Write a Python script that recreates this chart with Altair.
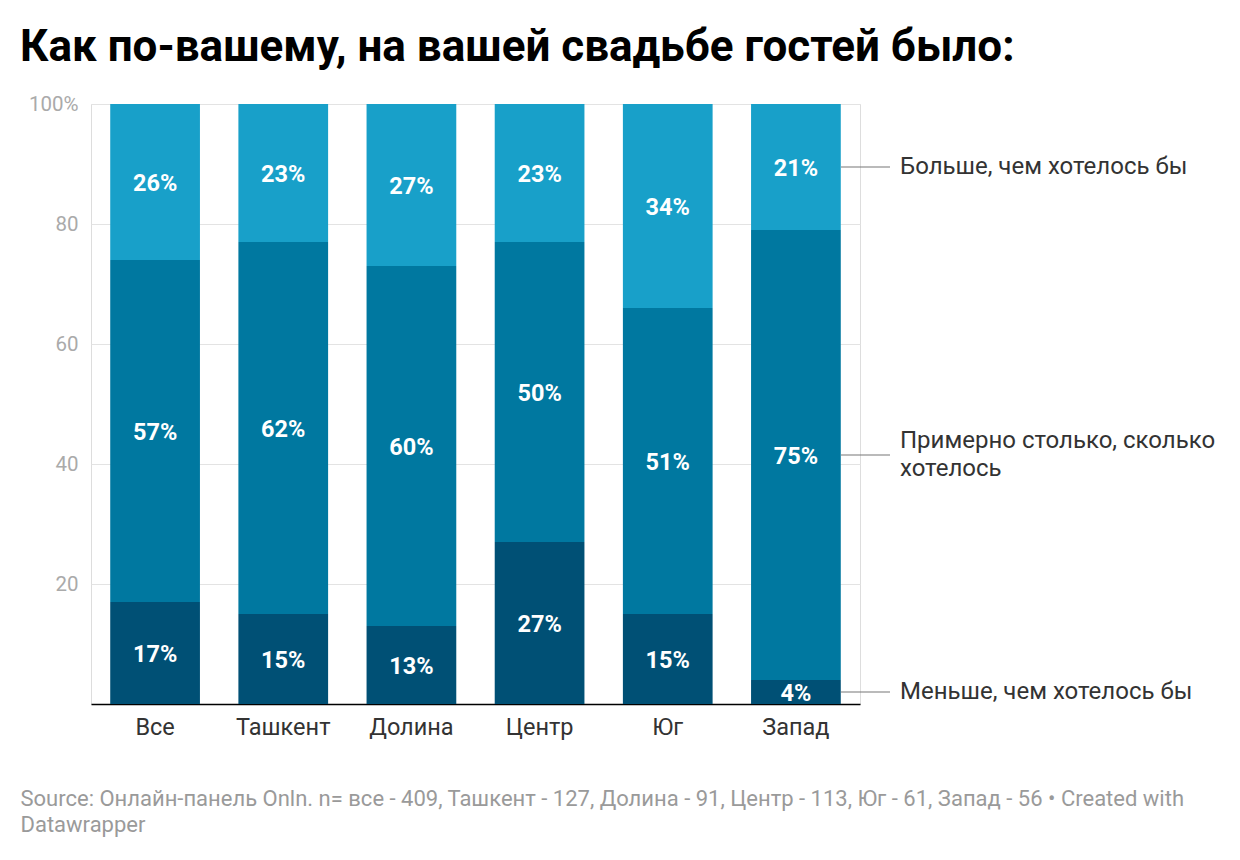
import altair as alt
import pandas as pd

regions = ["Все", "Ташкент", "Долина", "Центр", "Юг", "Запад"]
less = [17, 15, 13, 27, 15, 4]
about = [57, 62, 60, 50, 51, 75]
more = [26, 23, 27, 23, 34, 21]

cat_less = "Меньше, чем хотелось бы"
cat_about = "Примерно столько, сколько\nхотелось"
cat_more = "Больше, чем хотелось бы"
categories = [cat_less, cat_about, cat_more]
colors = ["#005075", "#0078a0", "#18a0c9"]

title_text = "Как по-вашему, на вашей свадьбе гостей было:"
source_lines = [
    "Source: Онлайн-панель Onln. n= все - 409, Ташкент - 127, Долина - 91, Центр - 113, Юг - 61, Запад - 56 • Created with",
    "Datawrapper",
]

rows = []
for i, r in enumerate(regions):
    start = 0
    for cat, vals in zip(categories, [less, about, more]):
        v = vals[i]
        rows.append({"region": r, "cat": cat, "v": v, "y0": start, "y1": start + v,
                     "mid": start + v / 2, "label": f"{v}%",
                     "multi": "\n" in cat})
        start += v
df = pd.DataFrame(rows)
legend_df = df[df["region"] == regions[-1]].copy()
legend_single = legend_df[~legend_df["multi"]]
legend_multi = legend_df[legend_df["multi"]]

x_enc = alt.X(
    "region:N", sort=regions,
    scale=alt.Scale(paddingInner=0.3, paddingOuter=0.15),
    axis=alt.Axis(
        title=source_lines, titleAnchor="start", titleAlign="left", titleBaseline="top",
        titleX=-71, titleY=84, titleFont="Roboto", titleFontSize=22, titleFontWeight="normal",
        titleColor="#9a9a9a", titleLineHeight=26,
        labelAngle=0, labelFont="Roboto", labelFontSize=23.5, labelColor="#333333",
        labelPadding=11, ticks=False, domainColor="#000000", domainWidth=1.5, grid=False,
    ),
)
y_scale = alt.Scale(domain=[0, 100], nice=False)

bars = alt.Chart(df).mark_bar().encode(
    x=x_enc,
    y=alt.Y("y0:Q", scale=y_scale, axis=alt.Axis(
        title=None, values=[20, 40, 60, 80, 100],
        labelExpr="datum.value == 100 ? '100%' : datum.label",
        labelFont="Roboto", labelFontSize=20.5, labelColor="#aaaaaa", labelPadding=13,
        ticks=False, domain=False, gridColor="#e3e3e3", gridWidth=1,
    )),
    y2="y1:Q",
    color=alt.Color("cat:N", scale=alt.Scale(domain=categories, range=colors), legend=None),
)

labels = alt.Chart(df).mark_text(
    font="Roboto", fontSize=23.5, fontWeight="bold", color="white", baseline="middle", dy=2
).encode(
    x=alt.X("region:N", sort=regions),
    y=alt.Y("mid:Q", scale=y_scale),
    text="label:N",
)

leg_rules = alt.Chart(legend_df).mark_rule(color="#777777", strokeWidth=1.2).encode(
    x=alt.value(750), x2=alt.value(799),
    y=alt.Y("mid:Q", scale=y_scale),
)
leg_style = dict(font="Roboto", fontSize=24, color="#333333", align="left",
                 baseline="middle", lineBreak="\n", lineHeight=28)
leg_text1 = alt.Chart(legend_single).mark_text(**leg_style).encode(
    x=alt.value(809),
    y=alt.Y("mid:Q", scale=y_scale),
    text="cat:N",
)
leg_text2 = alt.Chart(legend_multi).mark_text(dy=-14, **leg_style).encode(
    x=alt.value(809),
    y=alt.Y("mid:Q", scale=y_scale),
    text="cat:N",
)

chart = alt.layer(bars, labels, leg_rules, leg_text1, leg_text2).properties(
    width=769, height=600,
    autosize=alt.AutoSizeParams(type="none"),
    padding={"left": 83, "top": 96, "right": 372, "bottom": 148},
    title=alt.Title(title_text, anchor="start", frame="group", dx=-71, dy=0,
                    font="Roboto", fontSize=44, fontWeight="bold", color="#000000", offset=24),
).configure_view(stroke=None).configure(background="white")

chart.save("out.html", embed_options={"renderer": "svg", "actions": False})
